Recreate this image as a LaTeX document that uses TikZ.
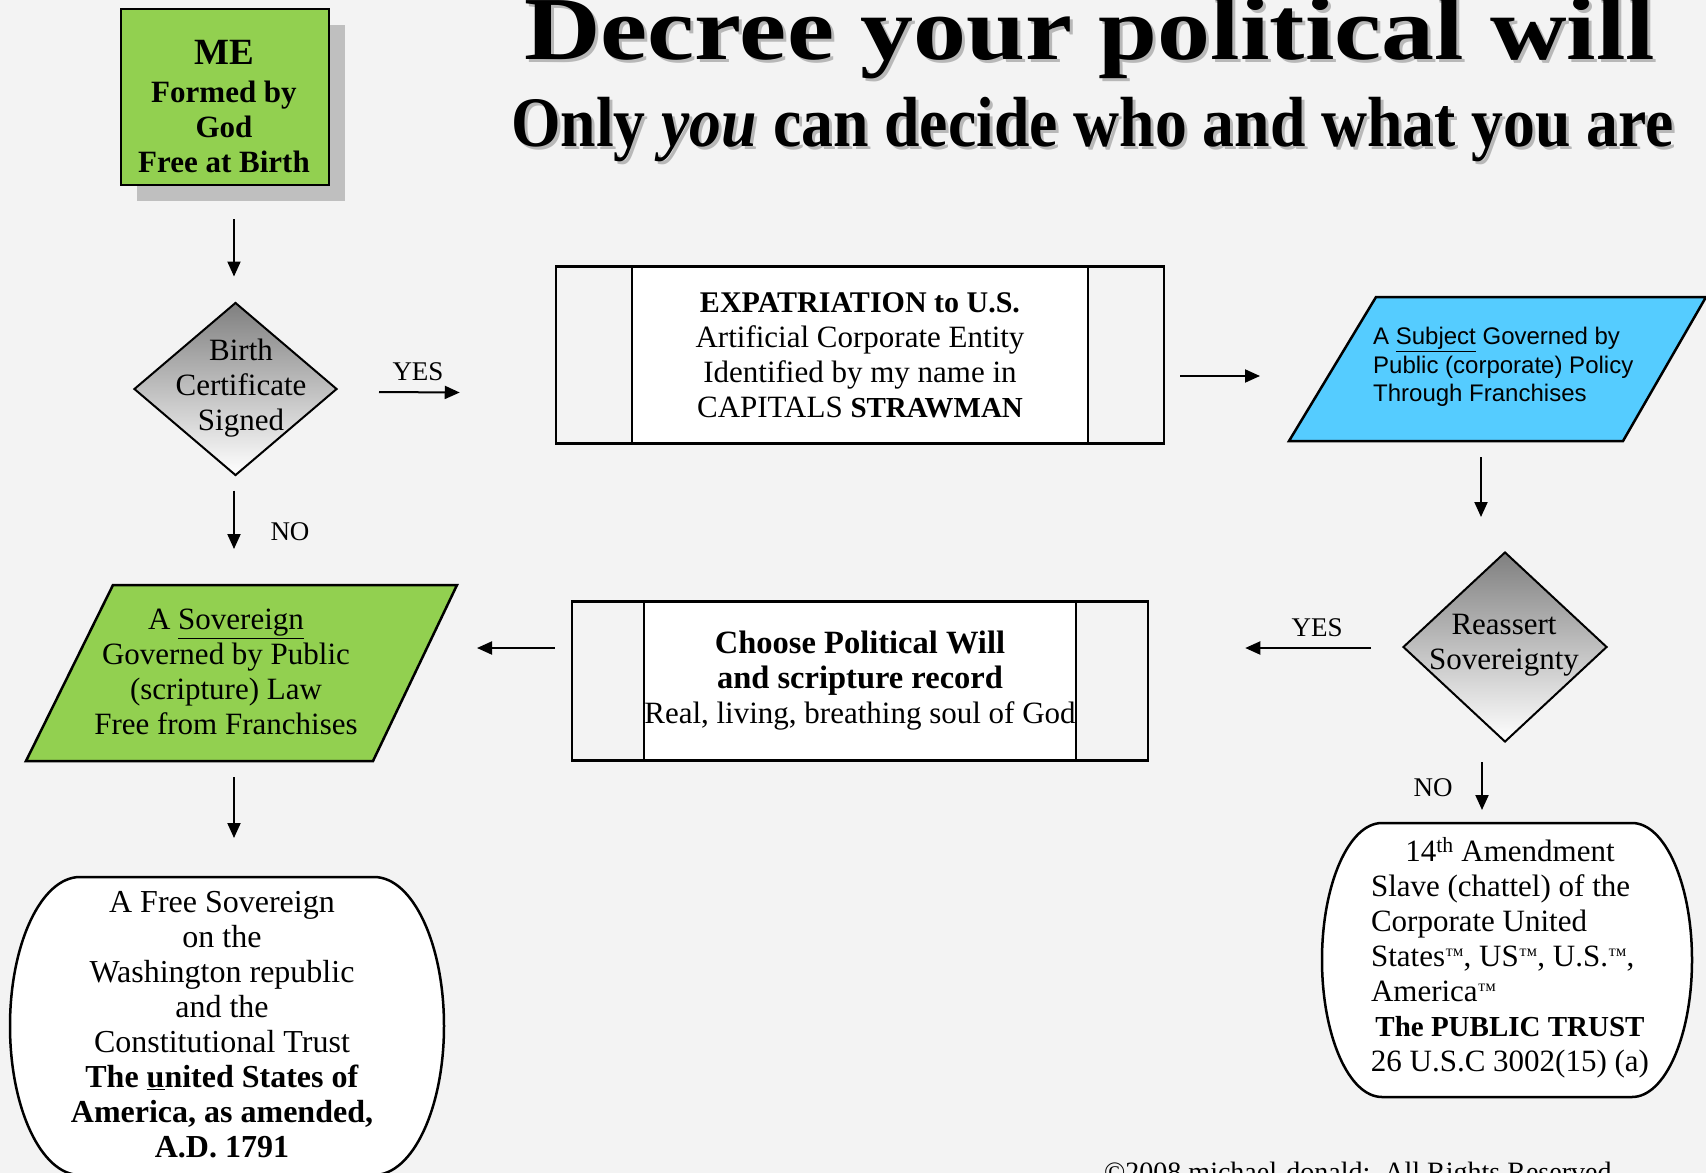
\documentclass[tikz,border=0pt]{standalone}
\usepackage{fontspec}
\setmainfont{Liberation Serif}
\newfontfamily\arialf{Liberation Sans}
\usepackage{graphicx}
\usetikzlibrary{shapes.geometric,arrows.meta,shadows,calc}
\definecolor{bgc}{RGB}{243,243,243}
\definecolor{sgreen}{RGB}{146,208,80}
\definecolor{sblue}{RGB}{85,204,255}
\newcommand\smalltm{\raisebox{5pt}{\fontsize{19}{19}\selectfont ™}}
\tikzset{
  txt/.style={font=\fontsize{31}{35}\selectfont, align=center, inner sep=0pt},
  lbl/.style={font=\fontsize{27}{30}\selectfont, inner sep=0pt},
  shp/.style={draw=black, line width=2.5pt, line join=miter},
  arr/.style={draw, line width=2pt, -{Triangle[length=15pt,width=13pt]}},
  dia/.style={diamond, draw, line width=2pt, inner sep=0pt, top color=black!50, bottom color=white},
  procbox/.style={draw, line width=2.5pt, path picture={
     \fill[white] ([xshift=#1]path picture bounding box.north west) rectangle ([xshift=-#1]path picture bounding box.south east);
     \draw[line width=2.5pt] ([xshift=#1]path picture bounding box.north west) -- ([xshift=#1]path picture bounding box.south west);
     \draw[line width=2.5pt] ([xshift=-#1]path picture bounding box.north east) -- ([xshift=-#1]path picture bounding box.south east);}}
}
\begin{document}
\begin{tikzpicture}[x=1pt,y=-1pt]
\clip (0,0) rectangle (1706,1173);
\fill[bgc] (0,0) rectangle (1706,1173);

% title
\node[anchor=base west, inner sep=0pt, text=black!28] (titlesh) at (527,62) {\resizebox{1131pt}{\height}{\fontsize{90}{90}\selectfont\bfseries Decree your political will}};
\node[anchor=base west, inner sep=0pt] (title) at (524,59) {\resizebox{1131pt}{\height}{\fontsize{90}{90}\selectfont\bfseries Decree your political will}};
\node[anchor=base west, inner sep=0pt, text=black!28] (subsh) at (514,149) {\resizebox{1163pt}{\height}{\fontsize{71}{71}\selectfont\bfseries Only \textit{you} can decide who and what you are}};
\node[anchor=base west, inner sep=0pt] (sub) at (511,146) {\resizebox{1163pt}{\height}{\fontsize{71}{71}\selectfont\bfseries Only \textit{you} can decide who and what you are}};

% ME box
\node[shp, fill=sgreen, minimum width=208pt, minimum height=176pt, inner sep=0pt,
      drop shadow={shadow xshift=16pt, shadow yshift=-16pt, fill=black!25, opacity=1}] (me) at (225,97) {};
\node[txt, font=\fontsize{31}{35}\selectfont\bfseries, anchor=north] (metext) at (224,40)
  {{\fontsize{37}{37}\selectfont ME}\\[3pt]Formed by\\God\\Free at Birth};

% diamonds
\node[dia, minimum width=203pt, minimum height=173pt] (d1) at (235.5,389) {};
\node[txt] (d1t) at (241,388) {Birth\\Certificate\\Signed};
\node[dia, minimum width=204pt, minimum height=190pt] (d2) at (1505,647) {};
\node[txt] (d2t) at (1504,645) {Reassert\\Sovereignty};

% process boxes
\node[procbox=76pt, minimum width=608pt, minimum height=177pt, txt] (expat) at (860,355)
  {{\fontsize{30}{35}\selectfont\bfseries EXPATRIATION to U.S.}\\Artificial Corporate Entity\\Identified by my name in\\CAPITALS {\fontsize{29}{35}\selectfont\bfseries STRAWMAN}};
\node[procbox=72pt, minimum width=576pt, minimum height=159pt, txt] (choose) at (860,681)
  {{\fontsize{32.5}{35}\selectfont\bfseries Choose Political Will}\\{\fontsize{32.5}{35}\selectfont\bfseries and scripture record}\\Real, living, breathing soul of God};

% parallelograms
\draw[shp, fill=sblue] (1376,297) -- (1706,297) -- (1623,441) -- (1289,441) -- cycle;
\node[anchor=west, align=left, inner sep=0pt, font=\arialf\fontsize{24}{28.5}\selectfont] (subj) at (1373,367)
  {A \underline{Subject} Governed by\\Public (corporate) Policy\\Through Franchises};
\draw[shp, fill=sgreen] (113,585) -- (457,585) -- (373,761) -- (26,761) -- cycle;
\node[txt] (sov) at (226,672) {A \underline{Sovereign}\\Governed by Public\\(scripture) Law\\Free from Franchises};

% terminals
\draw[shp, fill=white] (80,877) -- (374,877) arc[start angle=90, end angle=-90, x radius=70pt, y radius=149pt]
  -- (80,1175) arc[start angle=270, end angle=90, x radius=70pt, y radius=149pt] -- cycle;
\node[txt, font=\fontsize{32}{35}\selectfont] (free) at (222,1024.5) {A Free Sovereign\\on the\\Washington republic\\and the\\Constitutional Trust\\\textbf{The \underline{u}nited States of}\\\textbf{America, as amended,}\\\textbf{A.D. 1791}};
\draw[shp, fill=white] (1382,823) -- (1632,823) arc[start angle=90, end angle=-90, x radius=60pt, y radius=137pt]
  -- (1382,1097) arc[start angle=270, end angle=90, x radius=60pt, y radius=137pt] -- cycle;
\node[txt] (amend) at (1510,958) {14\textsuperscript{th} Amendment\\
  \makebox[278pt][l]{Slave (chattel) of the}\\
  \makebox[278pt][l]{Corporate United}\\
  \makebox[278pt][l]{States\smalltm, US\smalltm, U.S.\smalltm,}\\
  \makebox[278pt][l]{America\smalltm}\\
  {\fontsize{29}{35}\selectfont\bfseries The PUBLIC TRUST}\\26 U.S.C 3002(15) (a)};

% labels
\node[lbl] (yes1) at (418,372) {YES};
\node[lbl] (no1) at (290,532) {NO};
\node[lbl] (yes2) at (1317,628) {YES};
\node[lbl] (no2) at (1433,788) {NO};

% connectors
\draw[arr] ($(me.south)+(9,33)$) -- ($(d1.north)+(-1.5,-25)$);
\draw[arr] ($(d1.east)+(41,3)$) -- ($(expat.west)+(-95,37.5)$);
\draw[arr] ($(d1.south)+(-1.5,14)$) -- ($(sov.center)+(8,-123)$);
\draw[arr] ($(expat.east)+(15,21)$) -- ($(subj.west)+(-113,9)$);
\draw[arr] ($(subj.west)+(108,90)$) -- ($(d2.north)+(-24,-34)$);
\draw[arr] ($(d2.west)+(-31,1)$) -- ($(choose.east)+(96,-33)$);
\draw[arr] ($(choose.west)+(-16,-33)$) -- ($(sov.center)+(251,-24)$);
\draw[arr] ($(d2.south)+(-23,19)$) -- ($(amend.center)+(-28,-148)$);
\draw[arr] ($(sov.center)+(8,105)$) -- ($(free.center)+(12,-186.5)$);

% copyright
\node[anchor=base west, inner sep=0pt, font=\fontsize{28}{30}\selectfont] (copy) at (1104,1181) {©2008 michael-donald;\ \ All Rights Reserved};
\end{tikzpicture}
\end{document}
